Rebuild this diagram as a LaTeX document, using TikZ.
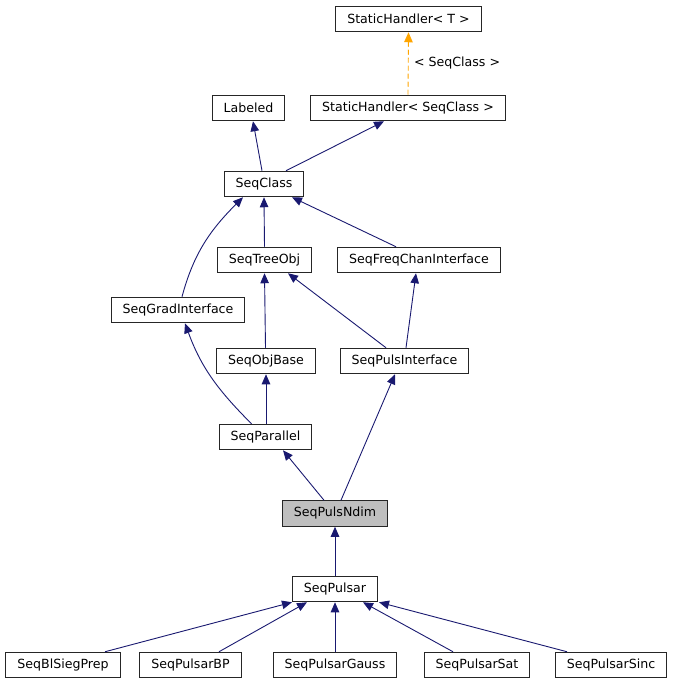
\documentclass[tikz,border=0pt]{standalone}
\usepackage{fontspec}
\setmainfont{DejaVu Sans}
\usetikzlibrary{arrows.meta}
\definecolor{navy}{HTML}{191970}
\definecolor{tmpl}{HTML}{FFA500}

\begin{document}
\begin{tikzpicture}
  [x=1pt,y=-1pt,
   cls/.style={rectangle, draw=black!85, line width=1pt, fill=white, inner xsep=11.5pt,
     inner ysep=0pt, minimum height=25.5pt, font=\fontsize{12.6}{15}\selectfont},
   inh/.style={navy, line width=0.9pt, -{Triangle[length=10pt,width=8.5pt]}},
   tpl/.style={tmpl, line width=0.9pt, dash pattern=on 5pt off 3pt,
     -{Triangle[length=10pt,width=8.5pt]}}]
  \useasboundingbox (0,0) rectangle (673,684);

  \node[cls] (sht) at (408.5,19) {StaticHandler< T >};
  \node[cls] (lab) at (248.5,108) {Labeled};
  \node[cls] (shc) at (408,108) {StaticHandler< SeqClass >};
  \node[cls] (sc) at (264,184) {SeqClass};
   \node[cls] (sto) at (264.5,260) {SeqTreeObj};
   \node[cls] (sfc) at (419,260) {SeqFreqChanInterface};
  \node[cls] (sgi) at (178,310) {SeqGradInterface};
   \node[cls] (sob) at (266,361) {SeqObjBase};
   \node[cls] (spi) at (404.5,361) {SeqPulsInterface};
  \node[cls] (spa) at (265.5,437) {SeqParallel};
  \node[cls, fill=black!25] (spn) at (335,513.5) {SeqPulsNdim};
  \node[cls] (sp) at (335,589) {SeqPulsar};
     \node[cls] (bsp) at (63,665) {SeqBlSiegPrep};
     \node[cls] (pbp) at (190.5,665) {SeqPulsarBP};
     \node[cls] (pga) at (335,665) {SeqPulsarGauss};
     \node[cls] (psa) at (477,665) {SeqPulsarSat};
     \node[cls] (psi) at (611,665) {SeqPulsarSinc};

  % template instance
  \draw[tpl] (shc.north) -- node[right, xshift=2pt, black, font=\fontsize{12.6}{15}\selectfont] (tl) {< SeqClass >} (sht.south);

  \foreach \from/\fx/\to/\tx in {sc/-2/lab/4.5, sc/22/shc/-24, sto/0/sc/0, sfc/-23/sc/28,
  sob/-0.5/sto/0, spi/-18.5/sto/23.5, spi/1.5/sfc/-3, spa/0.5/sob/0,
  spn/-11/spa/17.5, spn/6/spi/-9.5, sp/0/spn/0,
  bsp/42/sp/-43, pbp/28.5/sp/-28, pga/0/sp/0, psa/-24/sp/28, psi/-44/sp/44}
      \draw[inh] ([xshift=\fx]\from.north) -- ([xshift=\tx]\to.south);
  % the two bent ones
  \draw[inh] ([xshift=4]sgi.north) to[out=75,in=225] ([xshift=-21]sc.south);
  \draw[inh] ([xshift=-14]spa.north) to[out=135,in=-70] ([xshift=7]sgi.south);
\end{tikzpicture}
\end{document}
